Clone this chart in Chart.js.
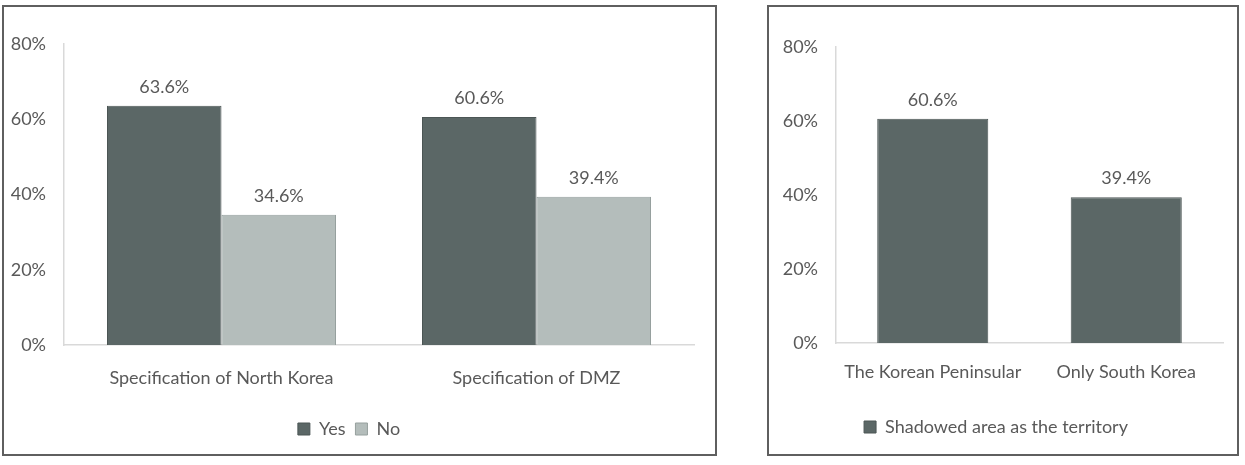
<!DOCTYPE html>
<html>
<head>
<meta charset="utf-8">
<script src="https://cdn.jsdelivr.net/npm/chart.js@4"></script>
<style>
  body { margin: 0; background: #fff; width: 1245px; height: 465px; position: relative; overflow: hidden; }
  .panel { position: absolute; border: 2px solid #5f5f5f; box-sizing: border-box; background: #fff; }
  canvas { position: absolute; }
</style>
</head>
<body>
<div class="panel" style="left:2px; top:5px; width:715px; height:451px;"></div>
<div class="panel" style="left:767px; top:5px; width:472px; height:451px;"></div>
<canvas id="left" style="left:4px; top:7px;"></canvas>
<canvas id="right" style="left:769px; top:7px;"></canvas>
<script>
// left chart: specification
const leftLabels = ["Specification of North Korea", "Specification of DMZ"];
const yesValues = [63.6, 60.6];
const noValues = [34.6, 39.4];

// right chart: territory
const rightLabels = ["The Korean Peninsular", "Only South Korea"];
const territoryValues = [60.6, 39.4];

const yTicks = [0, 20, 40, 60, 80];

const darkBar = "#5b6766";
const lightBar = "#b4bdbb";
const textColor = "#595959";
const fontName = "Lato, 'Open Sans', sans-serif";

//labels over every bar
const valueLabels = {
  id: "valueLabels",
  afterDatasetsDraw(chart) {
    const c = chart.ctx;
    c.save();
    c.fillStyle = textColor;
    c.font = "18px " + fontName;
    c.textAlign = "center";
    c.textBaseline = "middle";
    chart.data.datasets.forEach((ds, i) => {
      chart.getDatasetMeta(i).data.forEach((bar, j) => {
        c.fillText(ds.data[j].toFixed(1) + "%", bar.x, bar.y - 19);
      });
    });
    c.restore();
  },
};

const makeOptions = (yWidth, xPad, pad, catPct) => ({
  responsive: false,
  animation: false,
  layout: { padding: pad },
  datasets: { bar: { categoryPercentage: catPct, barPercentage: 1 } },
  plugins: {
    tooltip: { enabled: false },
    legend: {
      position: "bottom",
      labels: {
        color: textColor,
        font: { family: fontName, size: 18 },
        boxWidth: 12,
        boxHeight: 12,
        padding: 10,
      },
    },
  },
  scales: {
    y: {
      min: 0,
      max: 80,
      afterFit: (s) => { s.width = yWidth; },
      afterBuildTicks: (s) => { s.ticks = yTicks.map((v) => ({ value: v })); },
      grid: { display: false, drawTicks: false },
      border: { color: "#d9d9d9", width: 1.5 },
      ticks: {
        color: textColor,
        padding: 18,
        font: { family: fontName, size: 18 },
        callback: (v) => v + "%",
      },
    },
    x: {
      afterFit: (s) => { s.height = 65; },
      grid: { display: false, drawTicks: false },
      border: { color: "#d9d9d9", width: 1.5 },
      ticks: {
        color: textColor,
        padding: xPad,
        maxRotation: 0,
        font: { family: fontName, size: 18 },
      },
    },
  },
});

const leftCanvas = document.getElementById("left");
leftCanvas.width = 711;
leftCanvas.height = 447;
new Chart(leftCanvas.getContext("2d"), {
  type: "bar",
  data: {
    labels: leftLabels,
    datasets: [
      { label: "Yes", data: yesValues, backgroundColor: darkBar, borderColor: "#4c5655", borderWidth: 1 },
      { label: "No", data: noValues, backgroundColor: lightBar, borderColor: "#96a09e", borderWidth: 1 },
    ],
  },
  options: makeOptions(60, 22, { top: 37, right: 21, bottom: 6, left: 0 }, 0.727),
  plugins: [valueLabels],
});

const rightCanvas = document.getElementById("right");
rightCanvas.width = 468;
rightCanvas.height = 447;
new Chart(rightCanvas.getContext("2d"), {
  type: "bar",
  data: {
    labels: rightLabels,
    datasets: [
      { label: "Shadowed area as the territory", data: territoryValues, backgroundColor: darkBar, borderColor: "#4c5655", borderWidth: 1 },
    ],
  },
  options: makeOptions(67, 18, { top: 40, right: 14, bottom: 8, left: 0 }, 0.574),
  plugins: [valueLabels],
});
</script>
</body>
</html>
